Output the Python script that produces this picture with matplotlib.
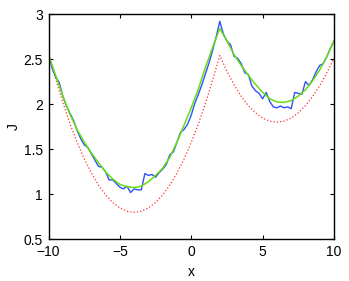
import matplotlib
matplotlib.use('Agg')
import matplotlib.pyplot as plt
import numpy as np

plt.rcParams['font.family'] = ['Liberation Sans', 'DejaVu Sans']

# red dotted curve (step 0.5)
x_red = np.arange(-10, 10.01, 0.5)
y_red = [2.58, 2.28, 2.02, 1.785, 1.58, 1.395, 1.237, 1.103, 0.994, 0.909,
         0.849, 0.812, 0.80, 0.812, 0.849, 0.909, 0.994, 1.103, 1.237, 1.394,
         1.576, 1.782, 2.013, 2.267, 2.54,
         2.364, 2.214, 2.088, 1.984, 1.904, 1.846, 1.812, 1.80, 1.812, 1.846,
         1.904, 1.984, 2.085, 2.205, 2.35, 2.51]

# green smooth curve (step 0.5)
x_green = np.arange(-10, 10.01, 0.5)
y_green = [2.55, 2.32, 2.09, 1.89, 1.72, 1.58, 1.46, 1.35, 1.25, 1.17,
           1.11, 1.085, 1.075, 1.09, 1.14, 1.21, 1.29, 1.41, 1.58, 1.77,
           1.96, 2.17, 2.41, 2.63, 2.84, 2.70, 2.55, 2.43, 2.32, 2.22,
           2.13, 2.06, 2.025, 2.02, 2.04, 2.09, 2.16, 2.26, 2.38, 2.53, 2.70]

# blue noisy curve (step 0.25)
x_blue = np.arange(-10, 10.01, 0.25)
y_blue = [2.56, 2.40, 2.30, 2.24, 2.09, 1.98, 1.90, 1.82, 1.71, 1.62,
          1.55, 1.52, 1.45, 1.38, 1.31, 1.30, 1.25, 1.16, 1.16, 1.12,
          1.08, 1.06, 1.09, 1.02, 1.06, 1.05, 1.05, 1.23, 1.21, 1.22,
          1.19, 1.24, 1.28, 1.33, 1.44, 1.47, 1.58, 1.69, 1.72, 1.78,
          1.88, 2.01, 2.11, 2.22, 2.34, 2.46, 2.60, 2.75, 2.92, 2.78,
          2.70, 2.66, 2.53, 2.51, 2.45, 2.35, 2.33, 2.20, 2.15, 2.12,
          2.06, 2.13, 2.03, 1.97, 1.96, 1.98, 1.96, 1.97, 1.95, 2.13,
          2.12, 2.11, 2.25, 2.21, 2.27, 2.36, 2.43, 2.45, 2.53, 2.62, 2.70]

fig = plt.figure(figsize=(3.49, 2.81), dpi=100)
ax = fig.add_axes([0.139, 0.148, 0.818, 0.802])

ax.plot(x_red, y_red, linestyle=':', color='#ff3030', lw=0.9)
ax.plot(x_blue, y_blue, color='#3050ff', lw=1.0)
ax.plot(x_green, y_green, color='#66dd11', lw=1.1)

ax.set_xlim(-10, 10)
ax.set_ylim(0.5, 3)
ax.set_xticks([-10, -5, 0, 5, 10])
ax.set_yticks([0.5, 1, 1.5, 2, 2.5, 3])
ax.set_yticklabels(['0.5', '1', '1.5', '2', '2.5', '3'])
ax.tick_params(direction='in', top=True, right=True, length=3, width=0.8,
               labelsize=10)
ax.tick_params(axis='x', pad=4)
ax.tick_params(axis='y', pad=4)
for s in ax.spines.values():
    s.set_linewidth(1.0)
ax.set_xlabel('x', fontsize=10, labelpad=4)
ax.set_ylabel('J', fontsize=10, labelpad=2)

fig.savefig('out.png', dpi=100)
